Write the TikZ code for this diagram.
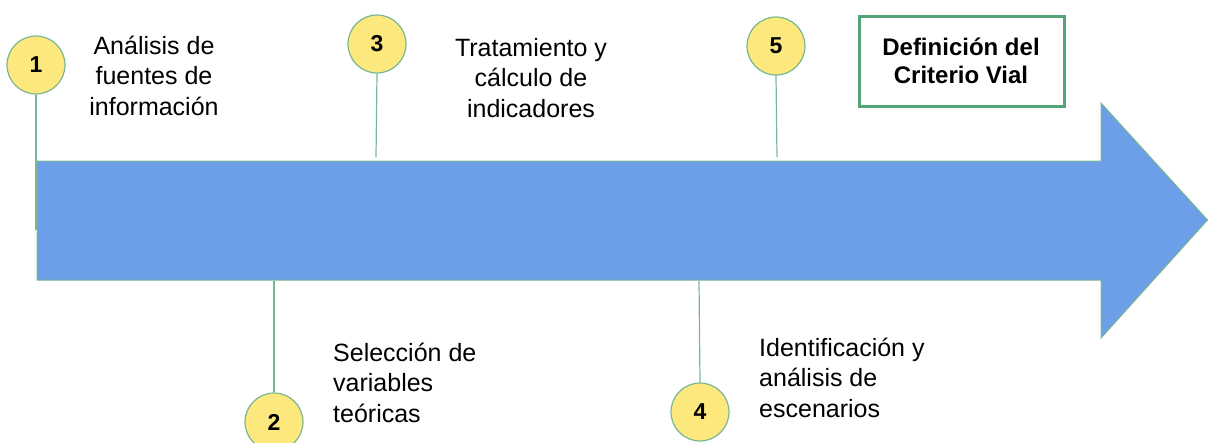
\documentclass[tikz,border=0pt]{standalone}
\usepackage{fontspec}
\setmainfont{Liberation Sans}
\definecolor{arrowblue}{HTML}{6D9EE8}
\definecolor{edgegreen}{HTML}{78B792}
\definecolor{boxgreen}{HTML}{52A576}
\definecolor{numyellow}{HTML}{FCE87C}
\begin{document}
\begin{tikzpicture}[x=1pt,y=-1pt,
  numcirc/.style={circle,draw=edgegreen,line width=1.2pt,fill=numyellow,minimum size=58pt,inner sep=0pt,font=\fontsize{23}{25}\selectfont\bfseries},
  stem/.style={draw=edgegreen,line width=1.2pt},
  lbl/.style={font=\fontsize{25}{30.5}\selectfont,inner sep=0pt},
  lblc/.style={lbl,align=center}]
\useasboundingbox (0,0) rectangle (1208,442);
% big arrow
\draw[draw=edgegreen,line width=1pt,fill=arrowblue,line join=miter]
  (37,161) -- (1101,161) -- (1101,103) -- (1207.5,220) -- (1101,338) -- (1101,280) -- (37,280) -- cycle;
% circles
\node[numcirc] (c1) at (36,65) {1};
\node[numcirc] (c2) at (274,422) {2};
\node[numcirc] (c3) at (377,44) {3};
\node[numcirc] (c4) at (700,412) {4};
\node[numcirc] (c5) at (776,46) {5};
% stems
\coordinate (s1) at (36,230);
\coordinate (s2) at (274,281);
\coordinate (s3) at (376,157);
\coordinate (s4) at (699,281);
\coordinate (s5) at (777,157);
\draw[stem] (c1.south) -- (s1);
\draw[stem] (c2.north) -- (s2);
\draw[stem] (c3.south) -- (s3);
\draw[stem] (c4.north) -- (s4);
\draw[stem] (c5.south) -- (s5);
% labels (base = baseline of last line)
\node[lblc,anchor=base] (t1) at (154,115) {Análisis de\\fuentes de\\información};
\node[lblc,anchor=base] (t3) at (531,117) {Tratamiento y\\cálculo de\\indicadores};
\node[lbl,align=left,anchor=base west] (t2) at (333,422) {Selección de\\variables\\teóricas};
\node[lbl,align=left,anchor=base west] (t4) at (759,417) {Identificación y\\análisis de\\escenarios};
% box
\draw[draw=boxgreen,line width=3pt] (859,16) rectangle (1064,106);
\node[font=\fontsize{24}{28}\selectfont\bfseries,align=center,anchor=base,inner sep=0pt] (box) at (961,83) {Definición del\\Criterio Vial};
\end{tikzpicture}
\end{document}
